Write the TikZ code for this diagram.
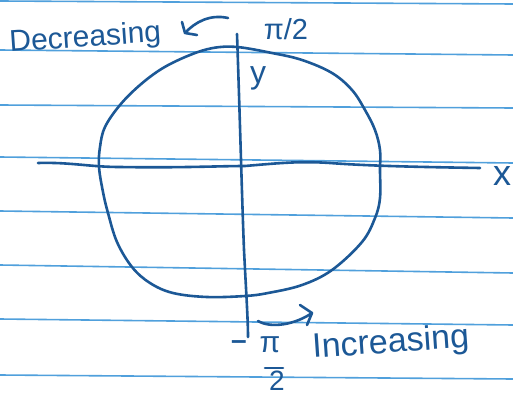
\documentclass[tikz,border=0pt]{standalone}
\usepackage{fontspec}
\setmainfont{Liberation Sans}
\definecolor{ink}{RGB}{28,88,150}
\definecolor{paper}{RGB}{80,160,220}
\tikzset{
  ruled/.style={draw=paper, line width=1.6pt},
  pen/.style={draw=ink, line width=2.6pt, line cap=round, line join=round},
  hand/.style={text=ink, inner sep=0pt},
}
\begin{document}
\begin{tikzpicture}[x=1pt,y=-1pt]
\useasboundingbox[fill=white] (0,0) rectangle (513,396);
% ruled paper lines
\foreach \l/\r in {1/4, 50/55, 105/108, 157/163, 211/218, 265/273, 319/325, 375/379}
  \draw[ruled] (0,\l) -- (513,\r);
% circle
\draw[pen] plot[smooth cycle, tension=0.6] coordinates {
  (237,47) (272,53) (302,60) (332,73) (352,90) (365,110) (375,130) (380,150)
  (380,170) (380,198) (375,218) (362,242) (332,270) (302,285) (268,293)
  (245,296) (207,297) (173,293) (150,283) (132,267) (117,242) (108,213)
  (103,192) (99,167) (100,147) (105,127) (120,105) (140,85) (163,68)
  (190,55) (213,48)};
% axes
\coordinate (xl) at (38,163);
\coordinate (xr) at (480,168);
\draw[pen] (xl) .. controls (70,162) and (90,167) .. (120,167)
  .. controls (180,168) and (220,166) .. (245,166)
  .. controls (280,163) and (300,161) .. (330,163)
  .. controls (370,166) and (420,167) .. (xr);
\coordinate (yt) at (237,34);
\coordinate (yb) at (248,337);
\draw[pen] (yt) .. controls (240,120) and (242,200) .. (244,250) .. controls (246,290) and (248,320) .. (yb);
% labels
\node[hand, font=\fontsize{30}{30}\selectfont, anchor=base west, rotate=4] (dec) at (10,52) {Decreasing};
\node[hand, font=\fontsize{29}{29}\selectfont] (pi2) at (286,29) {π/2};
\node[hand, font=\fontsize{32}{32}\selectfont] (ylab) at (258,78) {y};
\node[hand, font=\fontsize{36}{36}\selectfont] (xlab) at (502,176) {x};
\node[hand, font=\fontsize{34}{34}\selectfont, anchor=base west, rotate=4] (inc) at (313,358) {Increasing};
\node[hand, font=\fontsize{28}{28}\selectfont\bfseries] (mn) at (239,345) {–};
\node[hand, font=\fontsize{30}{30}\selectfont] (pin) at (270,345) {π};
\node[hand, font=\fontsize{28}{28}\selectfont] (two) at (277,381) {2};
\draw[pen] (265,368) -- (283,368);
% arrows
\coordinate (da) at (228,18);
\coordinate (dt) at (185,33);
\draw[pen] (da) .. controls (210,14) and (195,22) .. (dt);
\draw[pen] (182,22) -- (dt) -- (197,35);
\coordinate (ia) at (258,321);
\coordinate (it) at (312,313);
\draw[pen] (ia) .. controls (272,329) and (296,324) .. (it);
\draw[pen] (300,305) -- (it) -- (307,325);
\end{tikzpicture}
\end{document}
